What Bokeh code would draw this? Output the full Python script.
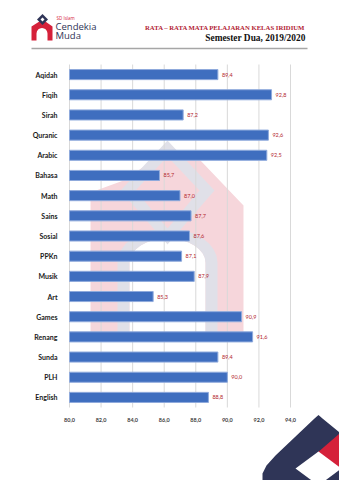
import math
from bokeh.plotting import figure
from bokeh.models import Range1d, FixedTicker, CustomJSTickFormatter
from bokeh.core.properties import value
from bokeh.embed import file_html
from bokeh.resources import INLINE

subjects = ["Aqidah", "Fiqih", "Sirah", "Quranic", "Arabic", "Bahasa", "Math", "Sains",
            "Sosial", "PPKn", "Musik", "Art", "Games", "Renang", "Sunda", "PLH", "English"]
scores = [89.4, 92.8, 87.2, 92.6, 92.5, 85.7, 87.0, 87.7,
          87.6, 87.1, 87.9, 85.3, 90.9, 91.6, 89.4, 90.0, 88.8]
score_labels = [f"{v:.1f}".replace(".", ",") for v in scores]
x_ticks = [80, 82, 84, 86, 88, 90, 92, 94]
x_min, x_max = 80, 94

W, H = 339, 480
# plot-area box on the page (pixels from the top-left corner)
FL, FR, FT, FB = 69, 290, 64, 407

n = len(subjects)
pos = list(range(n))
xs_per_px = (x_max - x_min) / (FR - FL)
ys_per_px = n / (FB - FT)
x_range = Range1d(x_min - FL * xs_per_px, x_max + (W - FR) * xs_per_px)
y_range = Range1d((n - 0.5) + (H - FB) * ys_per_px, -0.5 - FT * ys_per_px)

p = figure(width=W, height=H, output_backend="svg", toolbar_location=None,
           x_range=x_range, y_range=y_range,
           min_border=0, min_border_left=0, min_border_right=0,
           min_border_top=0, min_border_bottom=0)
p.title.visible = False
p.outline_line_color = None
p.grid.visible = False
p.extra_x_ranges = {"px": Range1d(0, W)}
p.extra_y_ranges = {"px": Range1d(H, 0)}

navy = "#2F3557"
red = "#D5213A"


def arc(cx, cy, rx, ry, a0, a1, k=16):
    return [(cx + rx * math.cos(math.radians(a0 + (a1 - a0) * i / k)),
             cy - ry * math.sin(math.radians(a0 + (a1 - a0) * i / k))) for i in range(k + 1)]


def shape(pts, color):
    p.patch([x for x, _ in pts], [y for _, y in pts], fill_color=color, line_color=None,
            x_range_name="px", y_range_name="px")


def ptext(x, y, txt, **kw):
    p.text(x=[x], y=[y], text=[txt], x_range_name="px", y_range_name="px", **kw)


# ---------------- watermark ----------------
pink = "#F6D6DB"
gray = "#E0E0E8"
house = [(90, 335), (90, 192), (123, 180), (167, 150), (200, 160), (243, 205), (243, 335),
         (205, 335), (205, 262)] + arc(167, 262, 38, 24, 0, 180) + [(129, 262), (129, 335)]
shape(house, pink)
band = [(117, 335), (117, 262)] + arc(167, 262, 50, 34, 180, 0) + \
    [(217, 335), (205, 335), (205, 262)] + arc(167, 262, 38, 24, 0, 180) + [(129, 262), (129, 335)]
shape(band, gray)
dia_o = [(167, 140), (214, 190), (167, 244), (120, 190), (167, 140)]
dia_i = [(167, 156), (199, 190), (167, 228), (135, 190), (167, 156)]
shape(dia_o + dia_i[::-1], gray)

# ---------------- chart ----------------
p.segment(x0=x_ticks, x1=x_ticks, y0=-0.5, y1=n - 0.5, line_color="#D9D9D9", line_width=1)
p.hbar(y=pos, right=scores, left=x_min, height=0.5,
       fill_color="#3F6EBF", line_color="#8FAADC", line_width=1)
p.text(x=scores, y=pos, text=score_labels, x_offset=4, text_baseline="middle",
       text_font=value("Lato"), text_font_size="5.5px", text_color="#B3262E")

p.xaxis.fixed_location = n - 0.5
p.xaxis.ticker = FixedTicker(ticks=x_ticks)
p.xaxis.formatter = CustomJSTickFormatter(code="return tick.toFixed(1).replace('.', ',')")
p.xaxis.axis_line_color = None
p.xaxis.major_tick_line_color = None
p.xaxis.minor_tick_line_color = None
p.xaxis.major_label_text_font = "Lato"
p.xaxis.major_label_text_font_style = "bold"
p.xaxis.major_label_text_font_size = "5.5px"
p.xaxis.major_label_text_color = "#404040"
p.xaxis.major_label_standoff = 4

p.yaxis.fixed_location = x_min
p.yaxis.ticker = FixedTicker(ticks=pos)
p.yaxis.major_label_overrides = {i: s for i, s in zip(pos, subjects)}
p.yaxis.axis_line_color = None
p.yaxis.major_tick_line_color = None
p.yaxis.minor_tick_line_color = None
p.yaxis.major_label_text_font = "Lato"
p.yaxis.major_label_text_font_style = "bold"
p.yaxis.major_label_text_font_size = "7px"
p.yaxis.major_label_text_color = "#1a1a1a"
p.yaxis.major_label_standoff = 6

# ---------------- header ----------------
icon = [(31, 40), (31, 26), (42, 19), (52, 26), (52, 40), (47, 40), (47, 33)] \
    + arc(41.5, 33, 5.5, 5.5, 0, 180, 8) + [(36, 40)]
shape(icon, red)
shape([(42, 13.5), (47.5, 19), (42, 24.5), (36.5, 19)], navy)
shape([(42, 17), (44, 19), (42, 21), (40, 19)], "white")
ptext(56, 20, "SD Islam", text_font=value("Open Sans"), text_font_size="4.5px",
      text_color=red, text_baseline="bottom")
ptext(55, 32.5, "Cendekia", text_font=value("Open Sans"), text_font_size="9.5px",
      text_color=navy, text_baseline="bottom")
ptext(55, 41, "Muda", text_font=value("Open Sans"), text_font_size="9.5px",
      text_color=navy, text_baseline="bottom")
ptext(305, 27.4, "RATA \u2013 RATA MATA PELAJARAN KELAS IRIDIUM", text_align="right",
      text_baseline="alphabetic", text_font=value("Liberation Serif"), text_font_style="bold",
      text_font_size="6.7px", text_color="#B22234")
ptext(305, 37.8, "Semester Dua, 2019/2020", text_align="right", text_baseline="alphabetic",
      text_font=value("Liberation Serif"), text_font_style="bold", text_font_size="9.4px",
      text_color="#111111")
shape([(31, 47.3), (307, 47.3), (307, 48.8), (31, 48.8)], "#A6A6A6")

# ---------------- footer decoration ----------------
shape([(262, 480), (262, 473), (266, 465), (275, 455), (314, 418), (318, 414.5), (322, 418),
       (339, 432), (339, 480)], navy)
shape([(316, 453), (339, 433), (339, 470)], red)
shape([(295, 468), (318, 451), (341, 468), (318, 485)], "white")

open("out.html", "w").write(file_html(p, INLINE))
